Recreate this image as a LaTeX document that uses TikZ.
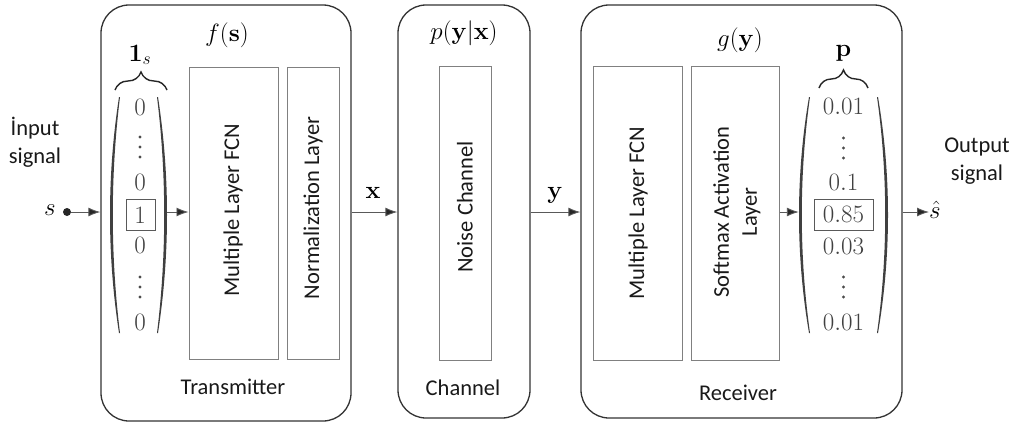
\documentclass[tikz,border=0pt]{standalone}
\usepackage{fix-cm}
\usepackage{amsmath}
\usepackage[no-math]{fontspec}
\newfontfamily\calib{Carlito}
\usetikzlibrary{arrows.meta,decorations.pathreplacing}
\newcommand{\myparen}[3]{%
  \fill[parcol] (#1,97) .. controls ({(4*#2-#1)/3},175) and ({(4*#2-#1)/3},255) .. (#1,333)
    -- ({#1+1.0*#3},333) .. controls ({(4*(#2+2.8*#3)-(#1+1.0*#3))/3},255) and ({(4*(#2+2.8*#3)-(#1+1.0*#3))/3},175) .. ({#1+1.0*#3},97) -- cycle;}
\newcommand{\mydots}[2]{%
  \foreach \dd in {-10,0,10} {\fill[dotcol] (#1,{#2+\dd}) circle (1.7pt);}}
\begin{document}
\begin{tikzpicture}[x=1pt,y=-1pt,
  outer/.style={draw=black!80, line width=1.3pt, rounded corners=28pt, inner sep=0pt},
  inner/.style={draw=black!50, line width=1pt, inner sep=0pt},
  lbl/.style={font=\calib\fontsize{22.5}{28}\selectfont, text=black!90, align=center, inner sep=0pt},
  mth/.style={font=\fontsize{25}{30}\selectfont, inner sep=0pt},
  num/.style={mth, text=black!75},
  dotcol/.style={fill=black!70},
  boxd/.style={draw=black!65, line width=0.9pt, inner sep=0pt},
  parcol/.style={fill=black!75},
  brc/.style={decorate, decoration={brace, amplitude=18pt}, draw=black!85, line width=1.4pt},
  arr/.style={draw=black!65, line width=0.9pt, -{Latex[length=12pt,width=9pt,fill=black!85]}}
]
\useasboundingbox (0,0) rectangle (1013,424);

% outer blocks
\node[outer, minimum width=250pt, minimum height=416pt] (tx) at (226,213) {};
\node[outer, minimum width=132pt, minimum height=413pt] (ch) at (464,211.5) {};
\node[outer, minimum width=321pt, minimum height=413pt] (rx) at (741.5,211.5) {};

% inner blocks
\node[inner, minimum width=89pt, minimum height=292pt] (mlt) at (233.5,213) {};
\node[inner, minimum width=52pt, minimum height=292pt] (norm) at (313,213) {};
\node[inner, minimum width=52pt, minimum height=294pt] (noise) at (465,213) {};
\node[inner, minimum width=89pt, minimum height=294pt] (mlr) at (637.5,213) {};
\node[inner, minimum width=88pt, minimum height=294pt] (soft) at (735,213) {};

\node[lbl, rotate=90] (tmlt) at (233,210) {Multiple Layer FCN};
\node[lbl, rotate=90] (tnorm) at (313,208) {Normalization Layer};
\node[lbl, rotate=90] (tnoise) at (465,207) {Noise Channel};
\node[lbl, rotate=90] (tmlr) at (638,213) {Multiple Layer FCN};
\node[lbl, rotate=90] (tsoft) at (737,212) {Softmax Activation\\Layer};

% block captions
\node[lbl] (ttx) at (233,387) {Transmitter};
\node[lbl] (tch) at (463,388) {Channel};
\node[lbl] (trx) at (738,393) {Receiver};

\node[mth] (fs) at (227,35) {$f(\mathbf{s})$};
\node[mth] (pyx) at (464,33) {$p(\mathbf{y}|\mathbf{x})$};
\node[mth] (gy) at (740,40) {$g(\mathbf{y})$};

% one-hot vector
\node[minimum width=57pt, minimum height=236pt, inner sep=0pt] (vec1) at (138.5,215) {};
\myparen{119}{110}{1}
\myparen{158}{167}{-1}
\node[num] (a1) at (140,107) {$0$};
\mydots{140}{147}
\node[num] (a3) at (140,182) {$0$};
\node[num] (a4) at (140,215) {$1$};
\node[boxd, minimum width=29pt, minimum height=31pt] (b1) at (140.5,214.5) {};
\node[num] (a5) at (140,245) {$0$};
\mydots{140}{287}
\node[num] (a7) at (140,322) {$0$};
\draw[brc] (115,90) -- (167,90);
\node[mth] (ones) at (140,55) {$\mathbf{1}_s$};

% probability vector
\node[minimum width=89pt, minimum height=236pt, inner sep=0pt] (vec2) at (843.5,215) {};
\myparen{809}{799}{1}
\myparen{878}{888}{-1}
\node[num] (p1) at (843.5,106) {$0.01$};
\mydots{843.5}{148}
\node[num] (p3) at (843.5,182) {$0.1$};
\node[num] (p4) at (843.5,214) {$0.85$};
\node[boxd, minimum width=59pt, minimum height=31pt] (b2) at (843.5,214.5) {};
\node[num] (p5) at (843.5,246) {$0.03$};
\mydots{843.5}{287}
\node[num] (p7) at (843.5,322) {$0.01$};
\draw[brc] (819,88) -- (868,88);
\node[mth] (pv) at (843.5,53) {$\mathbf{p}$};

% input / output
\node[lbl] (inp) at (35,142.5) {İnput\\signal};
\node[lbl] (outp) at (977,161.5) {Output\\signal};
\node[mth] (sl) at (50,210) {$s$};
\node[circle, fill=black!85, inner sep=0pt, minimum size=8pt] (sd) at (67,212) {};
\node[mth, anchor=west] (shat) at (929,210) {$\hat{s}$};

% connectors
\draw[arr] (sd.east) -- (tx.west |- sd);
\draw[arr] (vec1.east |- sd) -- (mlt.west |- sd);
\draw[arr] (tx.east |- sd) -- (ch.west |- sd);
\draw[arr] (ch.east |- sd) -- (rx.west |- sd);
\draw[arr] (soft.east |- sd) -- (vec2.west |- sd);
\draw[arr] (rx.east |- sd) -- (shat.west |- sd);

\node[mth] (xl) at (373,193) {$\mathbf{x}$};
\node[mth] (yl) at (555,195) {$\mathbf{y}$};
\end{tikzpicture}
\end{document}
